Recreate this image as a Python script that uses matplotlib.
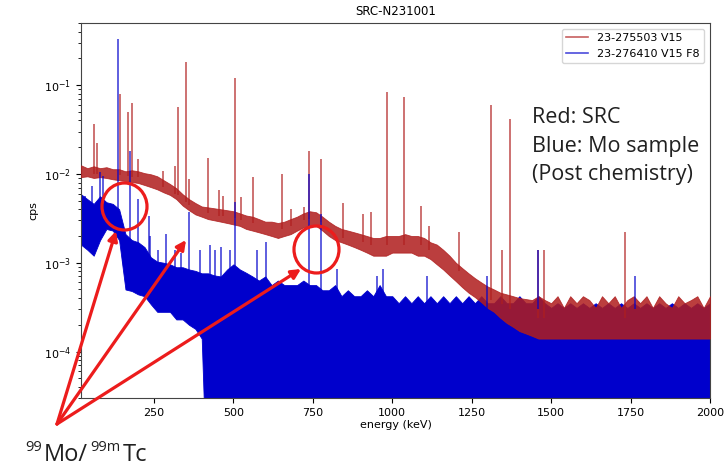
import numpy as np
import matplotlib
matplotlib.use('Agg')
from matplotlib import pyplot as plt
from matplotlib.lines import Line2D
from matplotlib.patches import Ellipse, FancyArrowPatch

# channel grid of the read-off envelopes (keV)
energy = np.arange(20, 2001, 20)

# SRC spectrum (red): upper / lower edge of the noise band, cps
red_hi = [0.0125, 0.0116, 0.0122, 0.0116, 0.0119, 0.0113, 0.0113, 0.0107, 0.0110, 0.0107,
          0.0102, 0.0099, 0.0094, 0.0085, 0.0077, 0.0069, 0.0059, 0.0052, 0.0047, 0.0043,
          0.0042, 0.0041, 0.0040, 0.0039, 0.0038, 0.0036, 0.0034, 0.0033, 0.0031, 0.0029,
          0.0029, 0.0028, 0.0029, 0.0031, 0.0033, 0.0036, 0.0038, 0.0037, 0.0033, 0.0029,
          0.0026, 0.0024, 0.0023, 0.0022, 0.0021, 0.0020, 0.0019, 0.0019, 0.0020, 0.0020,
          0.0020, 0.0021, 0.0020, 0.0020, 0.0019, 0.0017, 0.0016, 0.0014, 0.0012, 0.0010,
          0.00087, 0.00076, 0.00067, 0.00060, 0.00054, 0.00050, 0.00046, 0.00044, 0.00042, 0.00040,
          0.00039, 0.00038, 0.00042, 0.00038, 0.00035, 0.00042, 0.00031, 0.00042, 0.00035, 0.00042,
          0.00038, 0.00031, 0.00042, 0.00035, 0.00042, 0.00031, 0.00038, 0.00042, 0.00035, 0.00042,
          0.00031, 0.00042, 0.00035, 0.00031, 0.00042, 0.00035, 0.00038, 0.00042, 0.00031, 0.00042]
red_lo = [0.0092, 0.0094, 0.0090, 0.0092, 0.0090, 0.0087, 0.0085, 0.0083, 0.0081, 0.0079,
          0.0075, 0.0071, 0.0067, 0.0062, 0.0058, 0.0052, 0.0044, 0.0039, 0.0035, 0.0033,
          0.0031, 0.0030, 0.0029, 0.0028, 0.0027, 0.0026, 0.0024, 0.0023, 0.0022, 0.0021,
          0.0020, 0.0019, 0.0020, 0.0021, 0.0023, 0.0025, 0.0026, 0.0026, 0.0023, 0.0020,
          0.0018, 0.0017, 0.0016, 0.0015, 0.0014, 0.0013, 0.0012, 0.0012, 0.0012, 0.0013,
          0.0013, 0.0013, 0.0013, 0.0012, 0.0012, 0.0011, 0.00096, 0.00084, 0.00072, 0.00062,
          0.00053, 0.00046, 0.00041, 0.00036, 0.00031, 0.00028, 0.00024, 0.00021, 0.00019, 0.00017,
          0.00016, 0.00015] + [0.00014] * 28

# Mo sample spectrum (blue): upper / lower edge, 1e-6 = zero counts (off scale)
blue_hi = [0.0059, 0.0052, 0.0046, 0.0056, 0.0048, 0.0046, 0.0040, 0.0021, 0.0018, 0.0017,
           0.0015, 0.00115, 0.00103, 0.0010, 0.00096, 0.00089, 0.00089, 0.00084, 0.00081, 0.00076,
           0.00076, 0.00072, 0.00070, 0.00084, 0.00096, 0.00084, 0.00077, 0.00070, 0.00063, 0.00070,
           0.00056, 0.00063, 0.00056, 0.00056, 0.00056, 0.00063, 0.00056, 0.00056, 0.00049, 0.00049,
           0.00056, 0.00042, 0.00049, 0.00042, 0.00042, 0.00049, 0.00042, 0.00056, 0.00042,
           0.00042, 0.00035, 0.00042, 0.00035, 0.00042, 0.00035, 0.00042, 0.00035, 0.00042, 0.00035,
           0.00042, 0.00035, 0.00042, 0.00035, 0.00042, 0.00035, 0.00035, 0.00042, 0.00035, 0.00035,
           0.00042, 0.00035, 0.00035, 0.00042, 0.00035, 0.00031, 0.00035, 0.00031, 0.00035, 0.00031,
           0.00035, 0.00031, 0.00035, 0.00031, 0.00035, 0.00031, 0.00035, 0.00031, 0.00035, 0.00031,
           0.00035, 0.00031, 0.00035, 0.00031, 0.00035, 0.00031, 0.00035, 0.00031, 0.00035, 0.00031,
           0.00035]
blue_lo = [0.0016, 0.0014, 0.0012, 0.0018, 0.0024, 0.0023, 0.0018, 0.00050, 0.00048, 0.00044,
           0.00042, 0.00034, 0.00028, 0.00028, 0.00028, 0.00023, 0.00023, 0.00020, 0.00018, 0.00014] + [1e-6] * 80

# peaks (keV, top cps, cps where the peak leaves the band)
red_peak_energy = [60, 70, 144, 169, 182, 200, 279, 316, 326, 350, 361, 421, 453, 467, 505, 524,
                   563, 652, 681, 722, 738, 777, 846, 909, 933, 983, 1037, 1089, 1115, 1211,
                   1312, 1344, 1369, 1458, 1479, 1733]
red_peak_top = [0.036, 0.022, 0.079, 0.050, 0.063, 0.0146, 0.0107, 0.0122, 0.056, 0.18, 0.0087,
                0.015, 0.0066, 0.0056, 0.12, 0.0055, 0.0093, 0.0099, 0.0040, 0.0042, 0.018,
                0.0147, 0.0047, 0.0035, 0.0037, 0.083, 0.073, 0.0044, 0.0026, 0.0022, 0.060,
                0.0014, 0.041, 0.0014, 0.0014, 0.0022]
red_peak_base = [0.010, 0.010, 0.0098, 0.0095, 0.0093, 0.0092, 0.0072, 0.0060, 0.0058, 0.0048,
                 0.0045, 0.0036, 0.0034, 0.0034, 0.0032, 0.0030, 0.0028, 0.0024, 0.0026, 0.0030,
                 0.0031, 0.0029, 0.0019, 0.0017, 0.0016, 0.0016, 0.0016, 0.0016, 0.0014, 0.0008,
                 0.00038, 0.00034, 0.00030, 0.00024, 0.00024, 0.00024]

blue_peak_energy = [34, 56, 80, 90, 135, 153, 174, 201, 233, 237, 263, 288, 316, 336, 361, 394,
                    427, 441, 461, 489, 505, 574, 603, 738, 775, 826, 951, 970, 1108, 1297,
                    1458, 1763]
blue_peak_top = [0.0056, 0.0073, 0.0104, 0.0094, 0.33, 0.0018, 0.018, 0.0052, 0.0034, 0.0020,
                 0.0014, 0.0021, 0.0014, 0.0013, 0.0037, 0.0014, 0.0016, 0.0014, 0.0015, 0.0014,
                 0.0048, 0.0014, 0.0017, 0.0099, 0.0035, 0.00085, 0.00071, 0.00085, 0.00071,
                 0.00071, 0.0014, 0.00071]
blue_peak_base = [0.003, 0.003, 0.0035, 0.0035, 0.003, 0.001, 0.001, 0.0009, 0.0008, 0.0007,
                  0.0006, 0.0006, 0.0005, 0.0005, 0.0005, 0.0004, 0.0004, 0.0004, 0.0004, 0.0004,
                  0.0004, 0.0003, 0.0003, 0.0003, 0.0003, 0.0003, 0.0003, 0.0003, 0.0003, 0.0003,
                  0.0003, 0.0003]

labels = ['23-275503 V15', '23-276410 V15 F8']
x_ticks = [250, 500, 750, 1000, 1250, 1500, 1750, 2000]

red = '#b01e1e'
blue = '#0000cc'
note_red = '#ec1c1c'

W, H = 724, 468


def fig_xy(px, py):
    # pixel position (from top-left) -> figure fraction
    return px / W, 1 - py / H


fig = plt.figure(figsize=(W / 100, H / 100), dpi=100)
ax = fig.add_axes([81 / W, 1 - 398 / H, 629 / W, 375 / H])

ax.fill_between(energy, blue_lo, blue_hi, color=blue, lw=0.6, zorder=2)
ax.fill_between(energy, red_lo, red_hi, color=red, alpha=0.86, lw=0.6, zorder=3)
ax.vlines(red_peak_energy, red_peak_base, red_peak_top, color=red, lw=1.1, alpha=0.8, zorder=4)
ax.vlines(blue_peak_energy, blue_peak_base, blue_peak_top, color=blue, lw=1.1, alpha=0.8, zorder=5)

ax.set_yscale('log')
ax.set_xlim(20, 2000)
ax.set_ylim(3e-5, 0.5)
ax.set_xticks(x_ticks)
ax.tick_params(labelsize=8)
ax.set_xlabel('energy (keV)', fontsize=8, labelpad=2)
ax.set_ylabel('cps', fontsize=8)
ax.set_title('SRC-N231001', fontsize=8.5)
for s in ax.spines.values():
    s.set_color('#444444')

handles = [Line2D([], [], color=red, alpha=0.7, lw=1.2),
           Line2D([], [], color=blue, alpha=0.7, lw=1.2)]
ax.legend(handles, labels, loc='upper right', fontsize=8)

# slide annotations
note_font = dict(family='Open Sans', color='#202020', va='baseline')
fig.text(*fig_xy(532, 123), 'Red: SRC', fontsize=15.5, **note_font)
fig.text(*fig_xy(532, 152), 'Blue: Mo sample', fontsize=15.5, **note_font)
fig.text(*fig_xy(532, 180), '(Post chemistry)', fontsize=15.5, **note_font)

# 99Mo/99mTc with superscripts as separate pieces
for px, py, txt, size in [(25, 451, '99', 10.5), (44, 461, 'Mo/', 17),
                          (90, 451, '99m', 10.5), (123, 461, 'Tc', 17)]:
    fig.text(*fig_xy(px, py), txt, fontsize=size, **note_font)

for cx, cy in [(124.5, 206.5), (316.5, 249.5)]:
    fx, fy = fig_xy(cx, cy)
    fig.add_artist(Ellipse((fx, fy), 45 / W, 47 / H, transform=fig.transFigure,
                           fill=False, ec=note_red, lw=2.3, zorder=10))

tail = fig_xy(57, 424)
for tip in [(116, 231), (186, 240), (301, 269)]:
    fig.add_artist(FancyArrowPatch(tail, fig_xy(*tip), transform=fig.transFigure,
                                   arrowstyle='-|>', mutation_scale=14, lw=2.3,
                                   color=note_red, shrinkA=0, shrinkB=0, zorder=10))

fig.savefig('out.png', dpi=100)
